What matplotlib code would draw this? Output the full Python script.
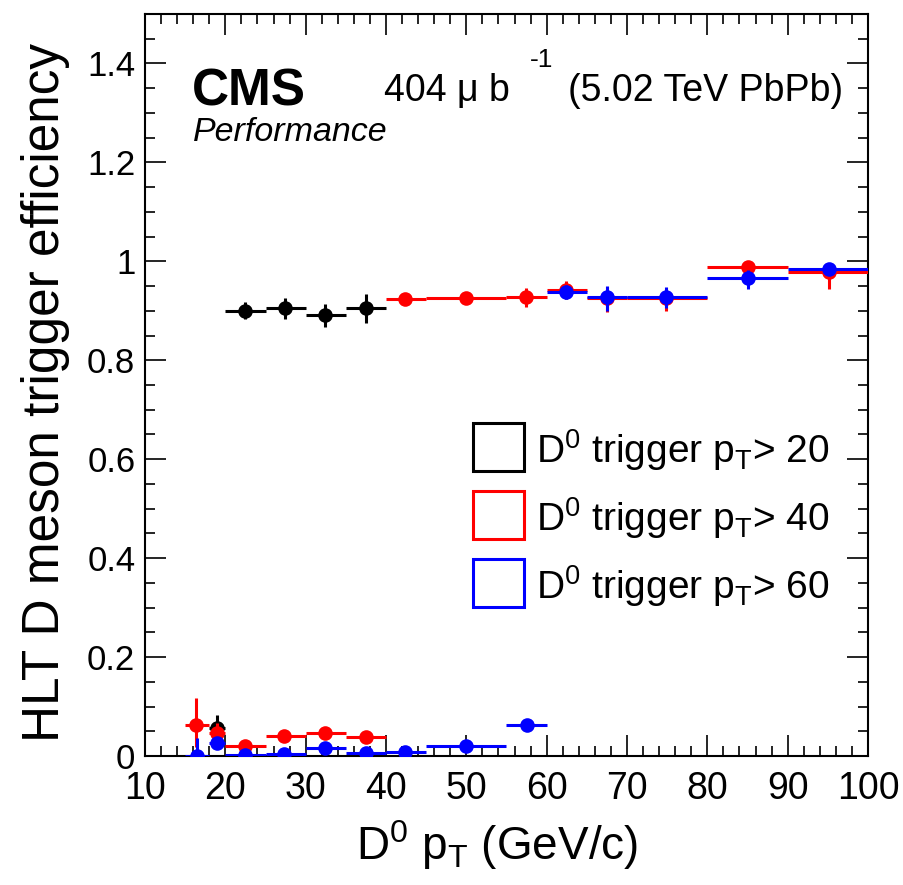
import matplotlib
matplotlib.use("Agg")
import matplotlib.pyplot as plt
from matplotlib.ticker import MultipleLocator, FuncFormatter
from matplotlib.patches import Rectangle

REG = "Liberation Sans"

plt.rcParams['mathtext.fontset'] = 'custom'
plt.rcParams['mathtext.rm'] = REG
plt.rcParams['mathtext.it'] = REG + ':italic'
plt.rcParams['mathtext.bf'] = REG + ':bold'

# ---------------- data ----------------
# trigger pT > 20 (black)
blk_x    = [19.0, 22.4, 27.4, 32.4, 37.5]
blk_xlo  = [18, 20, 25, 30, 35]
blk_xhi  = [20, 25, 30, 35, 40]
blk_y    = [0.056, 0.900, 0.906, 0.892, 0.906]
blk_elo  = [0.028, 0.017, 0.023, 0.025, 0.030]
blk_ehi  = [0.027, 0.017, 0.020, 0.022, 0.027]

# trigger pT > 40 (red)
red_x    = [16.4, 19.0, 22.4, 27.3, 32.4, 37.5, 42.4, 49.9, 57.4, 62.4, 67.5, 74.9, 85.0, 95.1]
red_xlo  = [15, 18, 20, 25, 30, 35, 40, 45, 55, 60, 65, 70, 80, 90]
red_xhi  = [18, 20, 25, 30, 35, 40, 45, 55, 60, 65, 70, 80, 90, 100]
red_y    = [0.063, 0.046, 0.020, 0.040, 0.046, 0.038, 0.923, 0.925, 0.928, 0.943, 0.925, 0.925, 0.988, 0.978]
red_elo  = [0.045, 0.020, 0.006, 0.006, 0.006, 0.006, 0.008, 0.005, 0.020, 0.020, 0.027, 0.025, 0.008, 0.033]
red_ehi  = [0.054, 0.020, 0.006, 0.006, 0.006, 0.006, 0.008, 0.005, 0.018, 0.018, 0.024, 0.022, 0.007, 0.012]

# trigger pT > 60 (blue)
blu_x    = [16.5, 19.0, 22.4, 27.3, 32.4, 37.5, 42.4, 49.95, 57.5, 62.4, 67.5, 74.9, 85.0, 95.1]
blu_xlo  = [15, 18, 20, 25, 30, 35, 40, 45, 55, 60, 65, 70, 80, 90]
blu_xhi  = [18, 20, 25, 30, 35, 40, 45, 55, 60, 65, 70, 80, 90, 100]
blu_y    = [0.000, 0.027, 0.002, 0.005, 0.016, 0.007, 0.008, 0.020, 0.063, 0.939, 0.927, 0.928, 0.966, 0.985]
blu_elo  = [0.000, 0.012, 0.002, 0.004, 0.005, 0.004, 0.004, 0.005, 0.010, 0.015, 0.027, 0.022, 0.021, 0.012]
blu_ehi  = [0.037, 0.012, 0.004, 0.004, 0.005, 0.004, 0.004, 0.005, 0.012, 0.014, 0.024, 0.020, 0.016, 0.010]

legend_labels = [r"D$^{0}$ trigger p$_{\mathrm{T}}$> 20",
                 r"D$^{0}$ trigger p$_{\mathrm{T}}$> 40",
                 r"D$^{0}$ trigger p$_{\mathrm{T}}$> 60"]

W, H = 904, 885
fig = plt.figure(figsize=(W/100, H/100), dpi=100)
ax = fig.add_axes([145/W, 1-756/H, (868-145)/W, (756-14)/H])

def draw(x, xlo, xhi, y, elo, ehi, color, z):
    xerr = [[xi - a for xi, a in zip(x, xlo)], [b - xi for xi, b in zip(x, xhi)]]
    ax.errorbar(x, y, xerr=xerr, yerr=[elo, ehi], fmt='o', color=color,
                ms=10.5, elinewidth=2.2, capsize=0, zorder=z, mew=0)

draw(blk_x, blk_xlo, blk_xhi, blk_y, blk_elo, blk_ehi, 'black', 3)
draw(red_x, red_xlo, red_xhi, red_y, red_elo, red_ehi, '#ff0000', 4)
draw(blu_x, blu_xlo, blu_xhi, blu_y, blu_elo, blu_ehi, '#0000ff', 5)

ax.set_xlim(10, 100)
ax.set_ylim(0, 1.5)
ax.xaxis.set_major_locator(MultipleLocator(10))
ax.xaxis.set_minor_locator(MultipleLocator(2))
ax.yaxis.set_major_locator(MultipleLocator(0.2))
ax.yaxis.set_minor_locator(MultipleLocator(0.05))
ax.yaxis.set_major_formatter(FuncFormatter(lambda v, p: "%g" % round(v, 2)))
ax.tick_params(which='both', direction='in', top=True, right=True, width=1.2)
ax.tick_params(which='major', length=15)
ax.tick_params(which='minor', length=7.5)
ax.tick_params(axis='x', which='major', pad=11, labelsize=27)
ax.tick_params(axis='y', which='major', pad=7, labelsize=25)
for lab in ax.get_xticklabels() + ax.get_yticklabels():
    lab.set_fontfamily(REG)
for s in ax.spines.values():
    s.set_linewidth(1.5)

ax.set_ylabel("HLT D meson trigger efficiency", fontsize=37, family=REG)
ax.yaxis.set_label_coords(-0.104, 0.49)
ax.set_xlabel(r"D$^{0}$ p$_{\mathrm{T}}$ (GeV/c)", fontsize=33, family=REG)
ax.xaxis.set_label_coords((638-145)/723, -0.084)
ax.xaxis.label.set_horizontalalignment('right')

def fp(x, y):
    return x / W, 1 - y / H

fig.text(*fp(192, 105), "CMS", fontsize=37, fontweight='bold', family=REG, va='baseline')
fig.text(*fp(193, 141), "Performance", fontsize=24.5, fontstyle='italic', family=REG, va='baseline')
fig.text(*fp(384, 101), "404 \u03bc b", fontsize=27, family=REG, va='baseline')
fig.text(*fp(530, 67), "-1", fontsize=19, family=REG, va='baseline')
fig.text(*fp(843, 101), "(5.02 TeV PbPb)", fontsize=27, family=REG, va='baseline', ha='right')

# legend
box_tops = [423, 491, 559]
colors = ['black', '#ff0000', '#0000ff']
for top, c, lab in zip(box_tops, colors, legend_labels):
    x0, y0 = fp(473, top + 48)
    fig.patches.append(Rectangle((x0, y0), 51/W, 48/H, transform=fig.transFigure,
                                 fill=False, edgecolor=c, linewidth=2.2))
    fig.text(*fp(536, top + 40), lab, fontsize=28, family=REG, va='baseline')

fig.savefig("out.png", dpi=100)
